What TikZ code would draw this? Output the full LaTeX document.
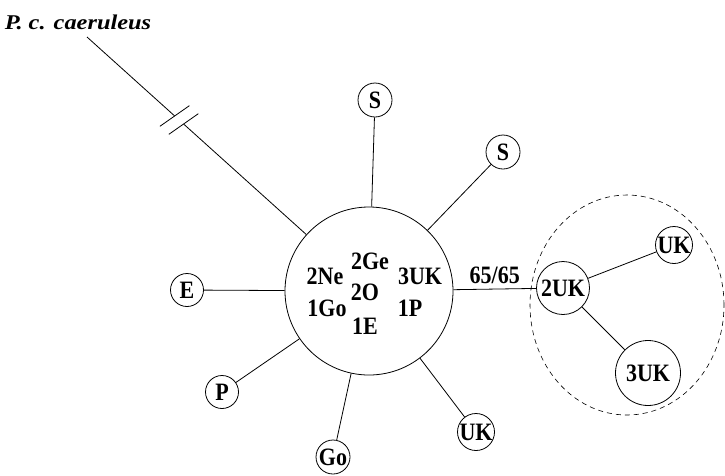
\documentclass[tikz,border=0pt]{standalone}
\usepackage{fontspec}
\setmainfont{Liberation Serif}
\newfontfamily\hapfont{Liberation Serif}[FakeStretch=0.88]
\usepackage{graphicx}
\usetikzlibrary{calc,shapes.geometric}

\begin{document}
\begin{tikzpicture}[x=1pt, y=-1pt,
  hap/.style={draw, circle, line width=0.8pt, inner sep=0pt,
              minimum size=#1, font=\hapfont\fontsize{25}{25}\selectfont\bfseries},
  hap/.default=34,
  cnt/.style={font=\hapfont\fontsize{25}{25}\selectfont\bfseries, inner sep=0pt},
  lnk/.style={line width=0.8pt},
  grp/.style={draw, dashed, ellipse, line width=0.6pt,
              dash pattern=on 5pt off 4pt}
]
\useasboundingbox (0,0) rectangle (725,475);

% Outgroup label
\node[font=\fontsize{21}{21}\selectfont\bfseries\itshape, inner sep=0pt]
  (out) at (78,22) {\scalebox{1.16}[1]{P. c. caeruleus}};
\coordinate (tail) at (87,37);

% Central haplotype
\node[hap=168] (hub) at (369,291) {};
\node[cnt] (ne)  at (325,276) {2Ne};
\node[cnt] (ge)  at (370,261) {2Ge};
\node[cnt] (uk3) at (420,276) {3UK};
\node[cnt] (o2)  at (365,292) {2O};
\node[cnt] (go1) at (327,308) {1Go};
\node[cnt] (p1)  at (410,308) {1P};
\node[cnt] (e1)  at (365,326) {1E};

% Single haplotypes round the centre
\node[hap]    (sTop) at (375,100) {S};
\node[hap]    (sRt)  at (503,152) {S};
\node[hap=33] (e)    at (187,290) {E};
\node[hap=33] (p)    at (222,392) {P};
\node[hap]    (go)   at (333,457) {Go};
\node[hap=37] (ukB)  at (476,432) {UK};

% UK group
\node[hap=53] (uk2)  at (563,288) {2UK};
\node[hap=37] (ukR)  at (674,245) {UK};
\node[hap=65] (uk3b) at (648,373) {3UK};
\node[grp, minimum width=194, minimum height=220] (ring) at (627,305) {};

% Links
\foreach \n in {sTop, sRt, e, p, go, ukB}
  \draw[lnk] (\n) -- (hub);
\draw[lnk] (hub) -- node[above, cnt, yshift=5pt] {65/65} (uk2);
\draw[lnk] (uk2) -- (ukR);
\draw[lnk] (uk2) -- (uk3b);

% Long branch with break
\coordinate (br1) at ($(tail)!118pt!(hub)$);
\coordinate (br2) at ($(tail)!130pt!(hub)$);
\draw[lnk] (tail) -- (br1);
\draw[lnk] (br2) -- (hub);
\draw[lnk] ($(br1)!18pt!77:(hub)$) -- ($(br1)!18pt!-103:(hub)$);
\draw[lnk] ($(br2)!18pt!77:(hub)$) -- ($(br2)!18pt!-103:(hub)$);

\end{tikzpicture}
\end{document}
